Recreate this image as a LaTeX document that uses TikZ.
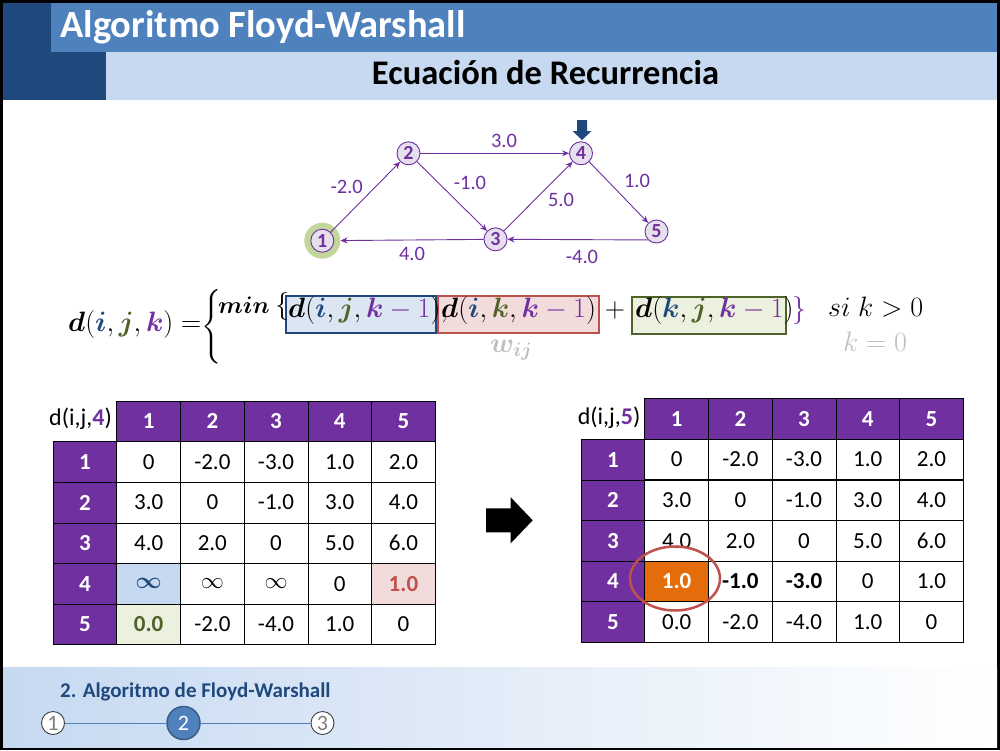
\RequirePackage{fix-cm}
\documentclass[tikz,border=0pt]{standalone}
\usepackage{amsmath,bm}
\usepackage[no-math]{fontspec}
\setmainfont{Carlito}
\usetikzlibrary{shapes.geometric,matrix,arrows.meta}

\definecolor{hdrdark}{HTML}{1F497D}
\definecolor{hdrmid}{HTML}{4F81BD}
\definecolor{hdrlight}{HTML}{C6D9F1}
\definecolor{fwPurple}{HTML}{7030A0}
\definecolor{vtxFill}{HTML}{E5E0EC}
\definecolor{haloGreen}{HTML}{C3D69B}
\definecolor{cI}{HTML}{1F497D}
\definecolor{cJ}{HTML}{4F6228}
\definecolor{cK}{HTML}{7030A0}
\definecolor{boxBlueFill}{HTML}{DCE6F2}
\definecolor{boxRed}{HTML}{C0504D}
\definecolor{boxRedFill}{HTML}{F2DCDB}
\definecolor{boxGreenFill}{HTML}{EBF1DE}
\definecolor{softGray}{HTML}{BFBFBF}
\definecolor{cellOrange}{HTML}{E46C0A}
\definecolor{stepGray}{HTML}{7F7F7F}
\definecolor{stepRim}{HTML}{404040}
\definecolor{stepEdge}{HTML}{385D8A}

\tikzset{
  vtx/.style={circle, draw=fwPurple, fill=vtxFill, line width=0.9pt, minimum size=23pt,
    inner sep=0pt, text=fwPurple, font=\bfseries\fontsize{20}{22}\selectfont},
  edge/.style={draw=fwPurple, line width=0.9pt, -{Stealth[length=7pt,width=6pt]}},
  elabel/.style={text=fwPurple, inner sep=0pt, font=\fontsize{20.5}{22}\selectfont},
  eq/.style={anchor=base west, inner sep=0pt, font=\fontsize{28}{32}\selectfont},
  termbox/.style={rectangle, line width=2pt, inner sep=0pt, minimum height=37pt},
  cellfont/.style={font=\fontsize{23}{26}\selectfont},
  boldcell/.style={font=\bfseries\fontsize{23}{26}\selectfont},
  tcell/.style={draw=black, line width=0.8pt, minimum width=63.7pt, minimum height=40.6pt,
    inner sep=0pt, outer sep=0pt, fill=white, cellfont, anchor=center},
  thead/.style={tcell, fill=fwPurple, text=white, boldcell},
  tblank/.style={draw=none, fill=none},
  tbl/.style={matrix of nodes, nodes in empty cells, anchor=north west, inner sep=0pt,
    outer sep=0pt, column sep=-0.8pt, row sep=-0.8pt, nodes={tcell}},
  tlabel/.style={anchor=base east, inner sep=0pt, font=\fontsize{24}{26}\selectfont},
  stepdot/.style={circle, draw=stepRim, fill=white, line width=0.9pt, minimum size=23pt,
    inner sep=0pt, text=stepGray, font=\fontsize{22}{24}\selectfont},
}

\begin{document}
\begin{tikzpicture}[x=1pt,y=-1pt]
\useasboundingbox (0,0) rectangle (1000,750);

% frame and header bands
\fill[black] (0,0) rectangle (1000,750);
\fill[white] (3,3) rectangle (997,747);
\fill[hdrdark] (3,3) rectangle (106,99.5);
\fill[hdrmid] (51,3) rectangle (997,51.7);
\fill[hdrlight] (106,51.7) rectangle (997,99.5);
\node[anchor=base west, inner sep=0pt, text=white, font=\bfseries\fontsize{38.5}{42}\selectfont]
  (title) at (60,37) {Algoritmo Floyd-Warshall};
\node[anchor=base, inner sep=0pt, text=black, font=\bfseries\fontsize{34.5}{38}\selectfont]
  (subtitle) at (545.5,84) {Ecuación de Recurrencia};

% footer band with progress steps
\shade[left color=hdrlight, right color=white] (3,667) rectangle (997,747);
\node[anchor=base west, inner sep=0pt, text=hdrdark, font=\bfseries\fontsize{21}{24}\selectfont]
  (ftitle) at (60,697) {2. Algoritmo de Floyd-Warshall};
\node[stepdot] (f1) at (53,723) {1};
\node[circle, fill=hdrmid, draw=stepEdge, line width=1.5pt, minimum size=33pt, inner sep=0pt,
  text=white, font=\fontsize{22}{24}\selectfont] (f2) at (183.5,723) {2};
\node[stepdot] (f3) at (322.5,723) {3};
\draw[hdrmid, line width=1pt] (f1) -- (f2);
\draw[hdrmid, line width=1pt] (f2) -- (f3);

% graph
\node[circle, fill=haloGreen, minimum size=36pt, inner sep=0pt] (halo) at (322.3,240.7) {};
\node[vtx] (v1) at (322.3,240.7) {1};
\node[vtx] (v2) at (408.5,153.3) {2};
\node[vtx] (v3) at (495.5,239.3) {3};
\node[vtx] (v4) at (581,153.3) {4};
\node[vtx] (v5) at (656.5,231.5) {5};
\draw[edge] (v1) -- (v2);
\draw[edge] (v2) -- (v4);
\draw[edge] (v2) -- (v3);
\draw[edge] (v3) -- (v4);
\draw[edge] (v4) -- (v5);
\draw[edge] (v5.south west) -- (v3.east);
\draw[edge] (v3) -- (halo);
\node[elabel] (l12) at (346.7,187) {-2.0};
\node[elabel] (l24) at (504,141) {3.0};
\node[elabel] (l23) at (470,183) {-1.0};
\node[elabel] (l34) at (561,200) {5.0};
\node[elabel] (l45) at (637,181) {1.0};
\node[elabel] (l31) at (412,254) {4.0};
\node[elabel] (l53) at (582,257) {-4.0};
% marker over vertex 4
\fill[hdrdark] (577,120) -- (587,120) -- (587,131) -- (591.5,131) -- (582,140)
  -- (572.5,131) -- (577,131) -- cycle;

% recurrence
\node[eq] (lhs) at (68,331.7)
  {$\bm{d}({\color{cI}\bm{i}},{\color{cJ}\bm{j}},{\color{cK}\bm{k}})=$};
\node[anchor=center, inner sep=0pt, font=\fontsize{28}{32}\selectfont] (brace) at (212,327) {$\bigg\{$};
\node[eq, font=\fontsize{24}{28}\selectfont] (minpart) at (218,313) {$\bm{min}$};
\node[termbox, draw=hdrdark, fill=boxBlueFill, minimum width=150pt] (bxA) at (361,314.5) {};
\node[termbox, draw=boxRed, fill=boxRedFill, minimum width=161pt] (bxB) at (518.5,314.5) {};
\node[termbox, draw=cJ, fill=boxGreenFill, minimum width=154pt] (bxC) at (708.9,315.3) {};
\node[eq] (openset) at (275,313) {$\{$};
\node[eq] (tA) at (288,317)
  {$\bm{d}({\color{cI}\bm{i}},{\color{cJ}\bm{j}},{\color{cK}\bm{k}-1}),$};
\node[eq] (tB) at (441,317)
  {$\bm{d}({\color{cI}\bm{i}},{\color{cJ}\bm{k}},{\color{cK}\bm{k}-1})$};
\node[eq, anchor=base] (plus) at (615,317) {$+$};
\node[eq] (tC) at (635,317)
  {$\bm{d}({\color{cI}\bm{k}},{\color{cJ}\bm{j}},{\color{cK}\bm{k}-1})$};
\node[eq, text=fwPurple] (close) at (792,317) {$\}$};
\node[eq] (cond1) at (828,316) {$si\;k>0$};
\node[eq, text=softGray] (cond0) at (843,351) {$k=0$};
\node[eq, text=softGray] (wij) at (490,352) {$\bm{w_{ij}}$};

% table for k = 4
\node[tlabel] (Llab) at (112,425) {d(i,j,{\color{fwPurple}\bfseries 4})};
\matrix (L) [tbl] at (52.7,400.7) {
  |[tblank]| & |[thead]| 1 & |[thead]| 2 & |[thead]| 3 & |[thead]| 4 & |[thead]| 5 \\
  |[thead]| 1 & 0 & -2.0 & -3.0 & 1.0 & 2.0 \\
  |[thead]| 2 & 3.0 & 0 & -1.0 & 3.0 & 4.0 \\
  |[thead]| 3 & 4.0 & 2.0 & 0 & 5.0 & 6.0 \\
  |[thead]| 4 & |[fill=hdrlight, text=hdrdark]| $\bm{\infty}$ & $\infty$ & $\infty$ & 0
    & |[fill=boxRedFill, text=boxRed, boldcell]| 1.0 \\
  |[thead]| 5 & |[fill=boxGreenFill, text=cJ, boldcell]| 0.0
    & -2.0 & -4.0 & 1.0 & 0 \\
};

% transition arrow
\fill[black] (486,508.3) -- (510.7,508.3) -- (510.7,497.3) -- (532.7,520.3)
  -- (510.7,543.3) -- (510.7,532.3) -- (486,532.3) -- cycle;

% table for k = 5
\node[tlabel] (Rlab) at (640.5,424) {d(i,j,{\color{fwPurple}\bfseries 5})};
\matrix (R) [tbl, nodes={minimum height=40.5pt}] at (580.7,398.3) {
  |[tblank]| & |[thead]| 1 & |[thead]| 2 & |[thead]| 3 & |[thead]| 4 & |[thead]| 5 \\
  |[thead]| 1 & 0 & -2.0 & -3.0 & 1.0 & 2.0 \\
  |[thead]| 2 & 3.0 & 0 & -1.0 & 3.0 & 4.0 \\
  |[thead]| 3 & 4.0 & 2.0 & 0 & 5.0 & 6.0 \\
  |[thead]| 4 & |[fill=cellOrange, text=white, boldcell]| 1.0
    & |[boldcell]| -1.0 & |[boldcell]| -3.0 & 0 & 1.0 \\
  |[thead]| 5 & 0.0 & -2.0 & -4.0 & 1.0 & 0 \\
};
\node[ellipse, draw=boxRed, line width=2.5pt, minimum width=90pt, minimum height=64pt,
  inner sep=0pt] (ring) at (675,578.5) {};
\end{tikzpicture}
\end{document}
